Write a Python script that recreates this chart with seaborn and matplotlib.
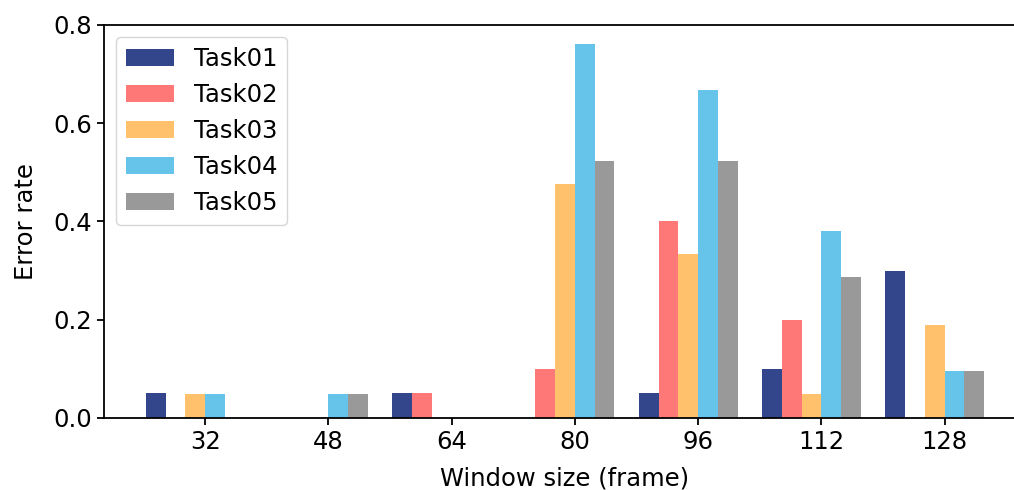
import matplotlib
matplotlib.use("Agg")
from matplotlib import pyplot as plt
import numpy as np
import pandas as pd
import seaborn as sns

windows = ["32", "48", "64", "80", "96", "112", "128"]
tasks = ["Task01", "Task02", "Task03", "Task04", "Task05"]
task01 = [0.05, 0.0, 0.05, 0.0, 0.05, 0.1, 0.3]
task02 = [0.0, 0.0, 0.05, 0.1, 0.4, 0.2, 0.0]
task03 = [0.048, 0.0, 0.0, 0.476, 0.333, 0.048, 0.19]
task04 = [0.048, 0.048, 0.0, 0.762, 0.667, 0.381, 0.095]
task05 = [0.0, 0.048, 0.0, 0.524, 0.524, 0.286, 0.095]
colors = ["#33468c", "#ff7878", "#ffc16b", "#66c3ea", "#999999"]

rows = []
for name, vals in zip(tasks, [task01, task02, task03, task04, task05]):
    for w, v in zip(windows, vals):
        rows.append({"window": w, "task": name, "error": v})
df = pd.DataFrame(rows)

sns.set_style("ticks", {"axes.edgecolor": "black", "text.color": "black",
                        "axes.labelcolor": "black", "xtick.color": "black",
                        "ytick.color": "black"})
plt.rcParams["font.family"] = ["DejaVu Sans"]
fs = 17.5
plt.rcParams["font.size"] = fs
plt.rcParams["axes.linewidth"] = 1.3
plt.rcParams["xtick.major.size"] = 5
plt.rcParams["ytick.major.size"] = 5
plt.rcParams["xtick.major.width"] = 1.3
plt.rcParams["ytick.major.width"] = 1.3

fig = plt.figure(figsize=(10.14, 4.9), dpi=100)
ax = fig.add_axes([104 / 1014, 0.147, 922 / 1014, 0.802])
sns.barplot(data=df, x="window", y="error", hue="task", order=windows,
            hue_order=tasks, palette=colors, width=0.8, saturation=1,
            edgecolor="none", ax=ax)

ax.set_xticks(np.arange(len(windows)) + 0.08, windows)
ax.set_xlim(-0.74, 6.74)
ax.set_ylim(0, 0.8)
ax.set_yticks([0.0, 0.2, 0.4, 0.6, 0.8])
ax.tick_params(labelsize=fs)
ax.set_xlabel("Window size (frame)", fontsize=fs, labelpad=9)
ax.set_ylabel("Error rate", fontsize=fs, labelpad=11)
sns.move_legend(ax, "upper left", title=None, frameon=True, fontsize=fs,
                borderaxespad=0.5)

fig.savefig("out.png", dpi=100)
